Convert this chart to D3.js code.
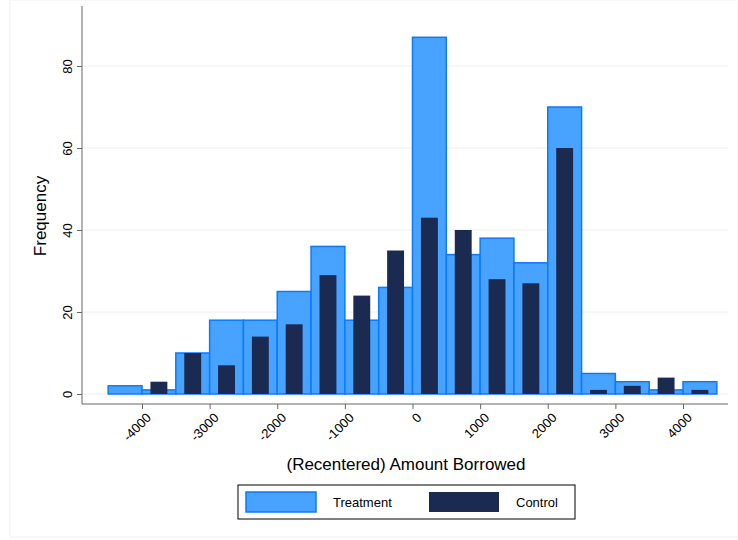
<!DOCTYPE html>
<html><head><meta charset="utf-8">
<script src="https://cdn.jsdelivr.net/npm/d3@7"></script>
<style>body{margin:0;background:#fff;font-family:"Liberation Sans",Arial,sans-serif}</style>
</head><body><div id="chart"></div>
<script>
// bin edges -4500..4500, width 500
var binStarts = d3.range(-4500, 4500, 500);
var treatment = [2, 1, 10, 18, 18, 25, 36, 18, 26, 87, 34, 38, 32, 70, 5, 3, 1, 3];
var control   = [0, 3, 10, 7, 14, 17, 29, 24, 35, 43, 40, 28, 27, 60, 1, 2, 4, 1];
var xTicks = [-4000, -3000, -2000, -1000, 0, 1000, 2000, 3000, 4000];
var yTicks = [0, 20, 40, 60, 80];

var svg = d3.select("#chart").append("svg").attr("width", 738).attr("height", 540);
svg.append("rect").attr("x", 10).attr("y", 0).attr("width", 728).attr("height", 537)
    .attr("fill", "none").attr("stroke", "#eef0f4");

var x = d3.scaleLinear().domain([-4000, 4000]).range([142, 683]);
var y = d3.scaleLinear().domain([0, 80]).range([394, 66]);

// grid
svg.selectAll(".grid").data(yTicks).enter().append("line")
    .attr("x1", 82).attr("x2", 728).attr("y1", d => y(d)).attr("y2", d => y(d))
    .attr("stroke", "#eaeef2");

// treatment
svg.selectAll(".t").data(binStarts).enter().append("rect")
    .attr("x", d => x(d)).attr("width", d => x(d + 500) - x(d))
    .attr("y", (d, i) => y(treatment[i])).attr("height", (d, i) => y(0) - y(treatment[i]))
    .attr("fill", "#47a3ff").attr("stroke", "#0a7aff").attr("stroke-width", 1.5);

// control
svg.selectAll(".c").data(binStarts).enter().append("rect")
    .attr("x", d => x(d + 125)).attr("width", d => x(d + 375) - x(d + 125))
    .attr("y", (d, i) => y(control[i])).attr("height", (d, i) => y(0) - y(control[i]))
    .attr("fill", "#1b2a50");

// y axis
var yAxis = svg.append("g").attr("transform", "translate(82,0)")
    .call(d3.axisLeft(y).tickValues(yTicks).tickSize(5));
yAxis.select(".domain").attr("d", "M0,6V404").attr("stroke", "#666");
yAxis.selectAll(".tick line").attr("stroke", "#666");
yAxis.selectAll("text").attr("font-size", 13).attr("fill", "#000")
    .attr("transform", "rotate(-90)").attr("text-anchor", "middle")
    .attr("x", 0).attr("y", -10).attr("dy", 0);

// x axis
var xAxis = svg.append("g").attr("transform", "translate(0,404)")
    .call(d3.axisBottom(x).tickValues(xTicks).tickSize(5).tickFormat(d => String(d)));
xAxis.select(".domain").attr("d", "M82,0H728").attr("stroke", "#666");
xAxis.selectAll(".tick line").attr("stroke", "#666");
xAxis.selectAll("text").attr("font-size", 13).attr("fill", "#000")
    .attr("transform", "translate(3,8) rotate(-45)").attr("text-anchor", "end")
    .attr("x", 0).attr("y", 0).attr("dy", "0.7em");

svg.append("text").attr("x", 406).attr("y", 470).attr("text-anchor", "middle")
    .attr("font-size", 17).text("(Recentered) Amount Borrowed");
svg.append("text").attr("transform", "translate(46,216) rotate(-90)")
    .attr("text-anchor", "middle").attr("font-size", 17).text("Frequency");

// legend
var lg = svg.append("g");
lg.append("rect").attr("x", 238).attr("y", 485).attr("width", 337).attr("height", 34)
    .attr("fill", "#fff").attr("stroke", "#000");
lg.append("rect").attr("x", 246).attr("y", 492).attr("width", 70).attr("height", 20)
    .attr("fill", "#47a3ff").attr("stroke", "#0a7aff").attr("stroke-width", 1.5);
lg.append("text").attr("x", 333).attr("y", 507).attr("font-size", 13).text("Treatment");
lg.append("rect").attr("x", 429).attr("y", 492).attr("width", 70).attr("height", 20)
    .attr("fill", "#1b2a50");
lg.append("text").attr("x", 516).attr("y", 507).attr("font-size", 13).text("Control");
</script></body></html>
